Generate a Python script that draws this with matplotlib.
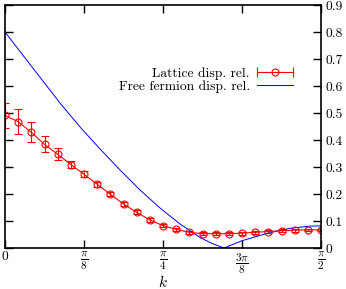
import numpy as np
import matplotlib
matplotlib.use("Agg")
import matplotlib.pyplot as plt
from matplotlib.lines import Line2D
from matplotlib.legend_handler import HandlerLine2D, HandlerTuple

plt.rcParams['font.family'] = ['cmr10', 'DejaVu Serif']
plt.rcParams['mathtext.fontset'] = 'cm'
plt.rcParams['axes.unicode_minus'] = False

# Lattice data: k = n*pi/48
lat_n = list(range(25))
lat_E = [0.491, 0.468, 0.428, 0.384, 0.347, 0.309, 0.273, 0.236, 0.199, 0.163,
         0.132, 0.104, 0.083, 0.069, 0.058, 0.053, 0.053, 0.053, 0.055, 0.058,
         0.061, 0.064, 0.066, 0.067, 0.067]
lat_err = [0.047, 0.046, 0.037, 0.029, 0.022, 0.014, 0.011, 0.009, 0.008, 0.007,
           0.007, 0.006, 0.006, 0.006, 0.005, 0.005, 0.005, 0.005, 0.005, 0.005,
           0.005, 0.005, 0.005, 0.005, 0.005]

# Free fermion curve (k in units of pi)
ff_k_over_pi = [0.0, 0.0396, 0.0870, 0.1203, 0.1503, 0.1820, 0.2136, 0.2453,
                0.2769, 0.3085, 0.3275, 0.3465, 0.375, 0.4146, 0.451, 0.4826, 0.5]
ff_E = [0.8, 0.680, 0.537, 0.444, 0.367, 0.289, 0.215, 0.148,
        0.089, 0.039, 0.017, 0.0, 0.027, 0.054, 0.073, 0.081, 0.082]

xtick_vals = [0, np.pi/8, np.pi/4, 3*np.pi/8, np.pi/2]
xtick_labels = ['0', r'$\frac{\pi}{8}$', r'$\frac{\pi}{4}$', r'$\frac{3\pi}{8}$', r'$\frac{\pi}{2}$']
ytick_vals = [0, 0.1, 0.2, 0.3, 0.4, 0.5, 0.6, 0.7, 0.8, 0.9]
ytick_labels = ['0', '0.1', '0.2', '0.3', '0.4', '0.5', '0.6', '0.7', '0.8', '0.9']

fs = 9.7
fig = plt.figure(figsize=(3.46, 2.89), dpi=100)
ax = fig.add_axes([5/346, 1 - 248/289, 316/346, 243/289])

lat_k = np.array(lat_n) * np.pi / 48
ax.errorbar(lat_k, lat_E, yerr=lat_err, color='red', lw=0.8, marker='o',
            ms=5, mfc='none', mec='red', mew=0.8, capsize=3, elinewidth=0.8,
            capthick=0.8)
ax.plot(np.array(ff_k_over_pi) * np.pi, ff_E, color='blue', lw=0.7)

ax.set_xlim(0, np.pi/2)
ax.set_ylim(0, 0.9)
ax.set_xticks(xtick_vals)
ax.set_xticklabels(xtick_labels, fontsize=11.5)
ax.get_xticklabels()[0].set_fontsize(fs)
ax.set_yticks(ytick_vals)
ax.set_yticklabels(ytick_labels, fontsize=fs)
ax.tick_params(axis='both', direction='in', length=5.5, width=1.0,
               top=True, bottom=True, left=True, right=True,
               labelleft=False, labelright=True, pad=3)
ax.tick_params(axis='x', pad=2)
for s in ax.spines.values():
    s.set_linewidth(1.2)
ax.set_xlabel(r'$k$', fontsize=11)
ax.xaxis.label.set_verticalalignment('baseline')
ax.xaxis.set_label_coords(0.5, -0.16)

caps = Line2D([], [], color='red', lw=0.8, marker='|', ms=6.5, mew=0.8)
circ = Line2D([], [], color='red', lw=0, marker='o', ms=5, mfc='none', mew=0.8)
ffl = Line2D([], [], color='blue', lw=0.7)
ax.legend([(caps, circ), ffl], ['Lattice disp. rel.', 'Free fermion disp. rel.'],
          handler_map={tuple: HandlerTuple(ndivide=1, pad=0),
                       caps: HandlerLine2D(numpoints=2, marker_pad=0),
                       circ: HandlerLine2D(numpoints=1)},
          loc='upper right', bbox_to_anchor=(0.911, 0.745), borderpad=0,
          borderaxespad=0, frameon=False, markerfirst=False, fontsize=fs,
          handlelength=2.68, handletextpad=0.52, labelspacing=0.05)

fig.savefig('out.png', dpi=100)
